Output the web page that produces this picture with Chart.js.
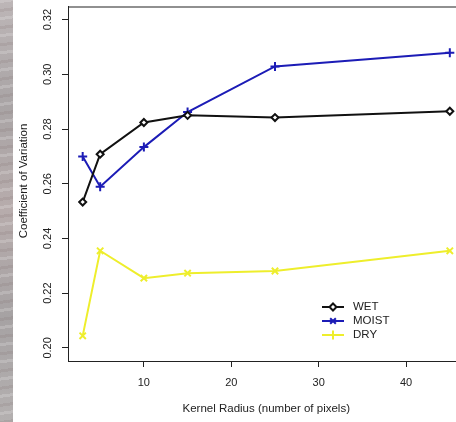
<!DOCTYPE html>
<html>
<head>
<meta charset="utf-8">
<script src="https://cdn.jsdelivr.net/npm/chart.js@4.4.1/dist/chart.umd.min.js"></script>
<style>
  html, body { margin: 0; padding: 0; background: #fff; overflow: hidden; }
  #wrap { position: relative; width: 456px; height: 422px; overflow: hidden; background: #fff; }
  #strip {
    position: absolute; left: 0; top: 0; width: 13px; height: 422px;
    background:
      repeating-linear-gradient(172deg, rgba(255,255,255,0.18) 0 3px, rgba(0,0,0,0) 3px 9px, rgba(120,100,100,0.15) 9px 12px, rgba(0,0,0,0) 12px 17px),
      linear-gradient(to bottom, #bdb6b7 0%, #a9a4a5 25%, #b7acac 50%, #a6a2a3 75%, #b4b0b0 100%);
  }
  #wrap canvas { position: absolute; left: 0; top: 0; }
</style>
</head>
<body>
<div id="wrap">
  <div id="strip"></div>
  <canvas id="cv" width="471" height="422"></canvas>
</div>
<script>
// kernel radius (pixels) and coefficient of variation per soil condition
const radius = [3, 5, 10, 15, 25, 45];
const wet = [0.2533, 0.2708, 0.2824, 0.2850, 0.2842, 0.2865];
const moist = [0.2700, 0.2589, 0.2734, 0.2862, 0.3029, 0.3079];
const dry = [0.2044, 0.2355, 0.2255, 0.2273, 0.2281, 0.2355];

const xTicks = [10, 20, 30, 40];
const yTicks = [0.20, 0.22, 0.24, 0.26, 0.28, 0.30, 0.32];

const FONT = 'Liberation Sans, Arial, sans-serif';
const INK = '#222';

function pts(values) {
    return radius.map((x, i) => ({ x: x, y: values[i] }));
}

// box around the plot region, rotated y tick labels, y title and the key
const decorations = {
    id: 'decorations',
    afterDraw(chart) {
        const ctx = chart.ctx;
        const a = chart.chartArea;
        const y = chart.scales.y;

        ctx.save();
        ctx.strokeStyle = INK;
        ctx.lineWidth = 1;
        ctx.strokeRect(a.left + 0.5, a.top + 0.5, a.right - a.left, a.bottom - a.top);

        ctx.fillStyle = INK;
        ctx.font = '11px ' + FONT;
        ctx.textAlign = 'center';
        ctx.textBaseline = 'middle';
        yTicks.forEach(v => {
            ctx.save();
            ctx.translate(48, y.getPixelForValue(v));
            ctx.rotate(-Math.PI / 2);
            ctx.fillText(v.toFixed(2), 0, 0);
            ctx.restore();
        });

        ctx.save();
        ctx.font = '11.5px ' + FONT;
        ctx.translate(24, 181);
        ctx.rotate(-Math.PI / 2);
        ctx.fillText('Coefficient of Variation', 0, 0);
        ctx.restore();

        // key: line sample with marker, then label
        const keyMarks = ['rectRot', 'crossRot', 'cross'];
        const keySize = [3.5, 4, 4.5];
        chart.data.datasets.forEach((ds, i) => {
            const ry = 307 + i * 14;
            ctx.strokeStyle = ds.borderColor;
            ctx.lineWidth = 2;
            ctx.beginPath();
            ctx.moveTo(322, ry);
            ctx.lineTo(344, ry);
            ctx.stroke();
            ctx.fillStyle = '#fff';
            Chart.helpers.drawPoint(ctx, {
                pointStyle: keyMarks[i],
                radius: keySize[i],
                borderWidth: 2
            }, 333, ry);
            ctx.fillStyle = INK;
            ctx.textAlign = 'left';
            ctx.font = '11.5px ' + FONT;
            ctx.fillText(ds.label, 353, ry);
        });
        ctx.restore();
    }
};

new Chart(document.getElementById('cv'), {
    type: 'line',
    data: {
        datasets: [
            {
                label: 'WET',
                data: pts(wet),
                borderColor: '#111',
                backgroundColor: '#fff',
                borderWidth: 2,
                pointStyle: 'rectRot',
                pointRadius: 3.5,
                pointBorderWidth: 2,
                pointBackgroundColor: '#fff',
                pointBorderColor: '#111'
            },
            {
                label: 'MOIST',
                data: pts(moist),
                borderColor: '#1c1cb6',
                borderWidth: 2,
                pointStyle: 'cross',
                pointRadius: 4.5,
                pointBorderWidth: 2,
                pointBorderColor: '#1c1cb6'
            },
            {
                label: 'DRY',
                data: pts(dry),
                borderColor: '#eeee2c',
                borderWidth: 2,
                pointStyle: 'crossRot',
                pointRadius: 4.5,
                pointBorderWidth: 2,
                pointBorderColor: '#eeee2c'
            }
        ]
    },
    options: {
        responsive: false,
        animation: false,
        layout: { padding: { top: 6, right: 5, left: 0, bottom: 0 } },
        plugins: {
            legend: { display: false },
            tooltip: { enabled: false }
        },
        scales: {
            x: {
                type: 'linear',
                min: 1.32,
                max: 46.68,
                afterBuildTicks: s => { s.ticks = xTicks.map(v => ({ value: v })); },
                afterFit: s => { s.height = 61; },
                grid: { drawOnChartArea: false, drawTicks: true, tickLength: 6, tickColor: INK },
                border: { display: true, color: INK, width: 1 },
                ticks: { color: INK, font: { family: FONT, size: 11 }, padding: 9, maxRotation: 0 },
                title: {
                    display: true,
                    text: 'Kernel Radius (number of pixels)',
                    color: INK,
                    font: { family: FONT, size: 11.5 },
                    padding: { top: 0, bottom: 6 }
                }
            },
            y: {
                type: 'linear',
                min: 0.1952,
                max: 0.3248,
                afterBuildTicks: s => { s.ticks = yTicks.map(v => ({ value: v })); },
                afterFit: s => { s.width = 68; },
                grid: { drawOnChartArea: false, drawTicks: true, tickLength: 6, tickColor: INK },
                border: { display: true, color: INK, width: 1 },
                ticks: { display: false }
            }
        }
    },
    plugins: [decorations]
});
</script>
</body>
</html>
